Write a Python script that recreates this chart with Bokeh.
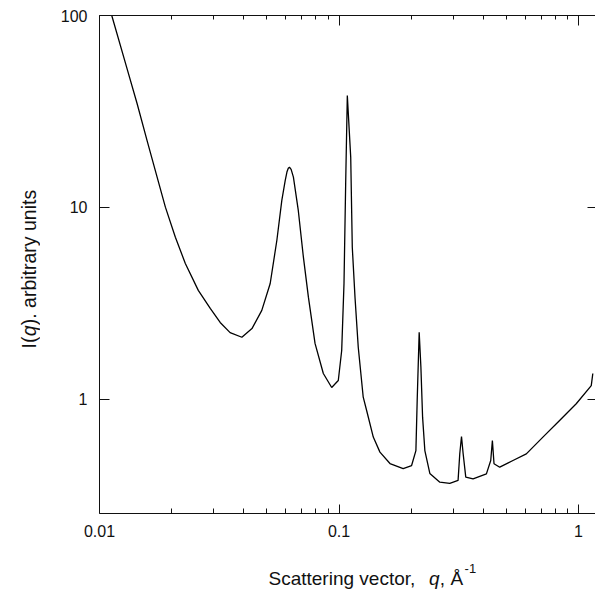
import math
from bokeh.plotting import figure
from bokeh.layouts import row, column
from bokeh.models import LogAxis, FixedTicker, Range1d, CustomJSTickFormatter
from bokeh.core.properties import value
from bokeh.embed import file_html
from bokeh.resources import INLINE

# ---- data (q in 1/Angstrom, I(q) arbitrary units) ----
q_values = [0.01125, 0.01304, 0.01436, 0.01580, 0.01740, 0.01884, 0.02074, 0.02282, 0.02585, 0.0290,
            0.0319, 0.0351, 0.0393, 0.0433, 0.0476, 0.0516, 0.0550, 0.0577, 0.0596, 0.0606,
            0.0614, 0.0621, 0.0631, 0.0645, 0.0676, 0.0710, 0.0745, 0.0794, 0.0860, 0.0932,
            0.0993, 0.1026, 0.1049, 0.1066, 0.1083, 0.1119, 0.1136, 0.1166, 0.1203, 0.1262,
            0.1304, 0.1390, 0.1482, 0.1632, 0.1853, 0.2009, 0.2094, 0.2120, 0.2161, 0.2197,
            0.2233, 0.2282, 0.2394, 0.2636, 0.290, 0.3141, 0.3193, 0.3246, 0.3297, 0.3382,
            0.3628, 0.4124, 0.4299, 0.4368, 0.4437, 0.4688, 0.5324, 0.6053, 0.7100, 0.8335,
            0.978, 1.130, 1.147]
intensity = [100.0, 52.7, 34.7, 22.3, 14.4, 10.04, 7.0, 5.11, 3.70, 2.98,
             2.52, 2.23, 2.11, 2.34, 2.91, 4.02, 6.73, 10.9, 13.8, 15.3,
             16.0, 16.2, 15.8, 14.4, 9.65, 5.51, 3.41, 1.96, 1.366, 1.155,
             1.256, 1.80, 4.02, 13.3, 38.3, 18.3, 6.21, 3.41, 1.87, 1.028,
             0.876, 0.637, 0.532, 0.464, 0.437, 0.453, 0.542, 0.988, 2.24, 1.473,
             0.809, 0.542, 0.412, 0.371, 0.366, 0.379, 0.523, 0.642, 0.523, 0.394,
             0.386, 0.410, 0.481, 0.612, 0.463, 0.444, 0.481, 0.521, 0.637, 0.777,
             0.950, 1.18, 1.366]

x_limits = [0.01, 1.177]
y_limits = [0.2548, 100.0]
x_major_ticks = [0.01, 0.1, 1.0]
x_tick_labels = ["0.01", "0.1", "1"]
y_major_ticks = [1.0, 10.0, 100.0]
y_tick_labels = ["1", "10", "100"]
x_title_parts = ["Scattering vector,", "q", ", Å"]
x_title_styles = ["normal", "italic", "normal"]
x_title_sup = "-1"
y_title_parts = ["I(", "q", "). arbitrary units"]
y_title_styles = ["normal", "italic", "normal"]

FONT = "Liberation Sans"
INK = "#111111"

# Arial-compatible advance widths (per 1000 em) for laying out mixed-style titles
ADV = {' ': 278, ',': 278, '.': 278, '(': 333, ')': 333, '-': 333, '1': 556, 'Å': 667, 'I': 278,
       'S': 667, 'a': 556, 'b': 556, 'c': 500, 'e': 556, 'g': 556, 'i': 222, 'n': 556, 'o': 556,
       'q': 556, 'r': 333, 's': 500, 't': 278, 'u': 556, 'v': 500, 'y': 500}


def text_width(s, size):
    return sum(ADV.get(ch, 556) for ch in s) / 1000.0 * size * 1.02


x_minor = [m * k for m in x_major_ticks[:-1] for k in range(2, 10)]

# ---------------- main plot ----------------
YT_W = 40      # width of the y-title strip
XT_H = 40      # height of the x-title strip
LEFT = 99 - YT_W
FW, FH = 496, 498
p = figure(x_axis_type="log", y_axis_type="log",
           x_range=Range1d(*x_limits), y_range=Range1d(*y_limits),
           frame_width=FW, frame_height=FH,
           min_border_left=LEFT, min_border_right=0, min_border_top=15, min_border_bottom=39,
           output_backend="svg", toolbar_location=None)
p.outline_line_color = None
p.grid.visible = False


def make_formatter(vals, labels):
    return CustomJSTickFormatter(args=dict(tick_vals=vals, tick_text=labels), code="""
        for (let i = 0; i < tick_vals.length; i++) {
            if (Math.abs(Math.log10(tick / tick_vals[i])) < 1e-6) { return tick_text[i]; }
        }
        return "";
    """)


blank = CustomJSTickFormatter(code="return '';")

xb = p.below[0]
xb.ticker = FixedTicker(ticks=x_major_ticks, minor_ticks=x_minor)
xb.formatter = make_formatter(x_major_ticks, x_tick_labels)
yl = p.left[0]
yl.ticker = FixedTicker(ticks=y_major_ticks, minor_ticks=[])
yl.formatter = make_formatter(y_major_ticks, y_tick_labels)

for ax in (xb, yl):
    ax.axis_line_color = INK
    ax.axis_line_width = 1
    ax.major_tick_line_color = INK
    ax.minor_tick_line_color = INK
    ax.major_tick_out = 0
    ax.minor_tick_out = 0
    ax.major_label_text_font = FONT
    ax.major_label_text_font_size = "16px"
    ax.major_label_text_color = INK
xb.major_tick_in = 9
xb.minor_tick_in = 5
xb.major_label_standoff = 11
yl.major_tick_in = 10
yl.major_label_standoff = 12

top = LogAxis(ticker=FixedTicker(ticks=x_major_ticks, minor_ticks=x_minor),
              formatter=blank, major_label_standoff=0,
              axis_line_color=INK, major_tick_line_color=INK, minor_tick_line_color=INK,
              major_tick_in=10, major_tick_out=0, minor_tick_in=4, minor_tick_out=0)
p.add_layout(top, "above")
right = LogAxis(ticker=FixedTicker(ticks=y_major_ticks, minor_ticks=[]),
                formatter=blank, major_label_standoff=0,
                axis_line_color=None, major_tick_line_color=INK,
                major_tick_in=8, major_tick_out=0, minor_tick_in=0, minor_tick_out=0)
p.add_layout(right, "right")

p.line(q_values, intensity, line_color="black", line_width=1.3)

MAIN_W = LEFT + FW
MAIN_H = 15 + FH + 39

# ---------------- x title strip: frame aligned with the main frame; data x = px from column left ----
xs = figure(frame_width=FW, height=XT_H, x_range=Range1d(LEFT, MAIN_W), y_range=Range1d(0, XT_H),
            x_axis_location=None, y_axis_location=None,
            min_border_left=LEFT, min_border_right=0, min_border_top=0, min_border_bottom=0,
            output_backend="svg", toolbar_location=None)
xs.outline_line_color = None
xs.grid.visible = False
XS = 19
base = 14.0
cx = 268.0 - YT_W
gaps = [text_width("  ", XS) - 1, 0.0, 0.0]
for txt, style, gap in zip(x_title_parts, x_title_styles, gaps):
    xs.text(x=[cx], y=[base], text=[txt], text_font=value(FONT), text_font_size=value(f"{XS}px"),
            text_font_style=style, text_color=INK, text_baseline="alphabetic", text_align="left")
    cx += text_width(txt, XS) + gap
xs.text(x=[cx + 1], y=[base + 10], text=[x_title_sup], text_font=value(FONT),
        text_font_size=value("13px"), text_color=INK, text_baseline="alphabetic", text_align="left")

# ---------------- y title strip; data = px (y up from bottom) ----------------
TOT_H = MAIN_H + XT_H
ys = figure(width=YT_W, height=TOT_H, x_range=Range1d(0, YT_W), y_range=Range1d(0, TOT_H),
            x_axis_location=None, y_axis_location=None, min_border=0,
            output_backend="svg", toolbar_location=None)
ys.outline_line_color = None
ys.grid.visible = False
YS = 19.5
tx, ty = 28.0, float(TOT_H - 348)
for txt, style in zip(y_title_parts, y_title_styles):
    ys.text(x=[tx], y=[ty], text=[txt], text_font=value(FONT), text_font_size=value(f"{YS}px"),
            text_font_style=style, text_color=INK, text_baseline="alphabetic", text_align="left",
            angle=math.pi / 2)
    ty += text_width(txt, YS)

layout = row(ys, column(p, xs))
open("out.html", "w").write(file_html(layout, INLINE))
